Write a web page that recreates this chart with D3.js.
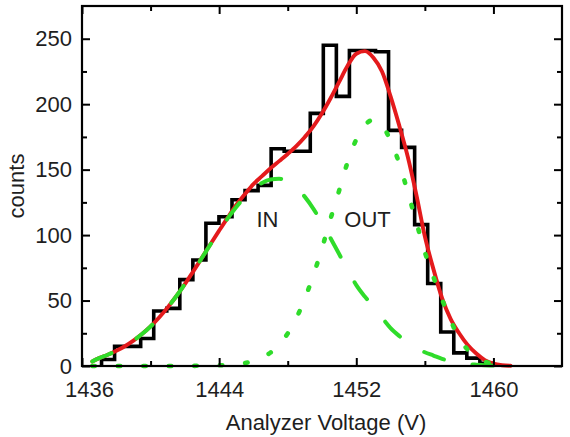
<!DOCTYPE html>
<html>
<head>
<meta charset="utf-8">
<script src="https://cdn.jsdelivr.net/npm/d3@7"></script>
<style>
  html, body { margin: 0; padding: 0; background: #fff; }
  svg { display: block; font-family: "Liberation Sans", Arial, sans-serif; }
</style>
</head>
<body>
<svg id="chart" width="570" height="437"></svg>
<script>
// Histogram of counts per analyzer-voltage bin
const binStart = 1437.14;
const binWidth = 0.761;
const counts = [5, 15, 15, 21, 42, 44, 66, 81, 109, 114, 127, 134, 138, 166, 164, 164,
                193, 245, 206, 241, 241, 240, 180, 167, 108, 63, 26, 10, 6, 2];

// Fitted curves sampled on a common voltage grid
const fitVoltage = [1436.6, 1437.0, 1437.5, 1438.0, 1438.5, 1439.0, 1439.5, 1440.0, 1440.5, 1441.0,
                    1441.5, 1442.0, 1442.5, 1443.0, 1443.5, 1444.0, 1444.5, 1445.0, 1445.5, 1446.0,
                    1446.5, 1447.0, 1447.5, 1448.0, 1448.5, 1449.0, 1449.5, 1450.0, 1450.5, 1451.0,
                    1451.5, 1452.0, 1452.5, 1453.0, 1453.5, 1454.0, 1454.5, 1455.0, 1455.5, 1456.0,
                    1456.5, 1457.0, 1457.5, 1458.0, 1458.5, 1459.0, 1459.5, 1460.0, 1460.5, 1461.0];
const fitTotal = [3.5, 6.0, 8.6, 11.6, 15.1, 19.4, 24.4, 30.2, 37.0, 44.8,
                  53.3, 62.6, 72.5, 82.8, 93.2, 103.4, 113.4, 123, 131.2, 139,
                  145, 151, 156.5, 162, 168, 175, 183, 193, 204.5, 217,
                  229.5, 238.5, 240.5, 235.5, 225, 206, 184, 160, 131, 99,
                  74, 52, 36, 25, 16, 9.5, 4.5, 1.8, 0.6, 0.2];
const fitIn = [3.5, 6.0, 8.6, 11.6, 15.1, 19.4, 24.4, 30.2, 37.0, 44.8,
               53.3, 62.6, 72.5, 82.7, 93.0, 103.0, 112.7, 121.5, 129.0, 135.3,
               139.8, 142.4, 143.0, 141.0, 136.3, 129.2, 120.1, 109.3, 97.6, 85.5,
               73.4, 61.8, 53.0, 45.5, 37.0, 29.0, 23.0, 18.0, 13.5, 10.5,
               8.0, 5.5, 3.8, 2.4, 1.5, 1.0, 0.6, 0.4, 0.2, 0.1];
const fitOut = [0, 0, 0, 0, 0, 0, 0, 0, 0, 0,
                0, 0, 0.1, 0.2, 0.3, 0.5, 0.8, 1.2, 2.2, 3.7,
                6.2, 10.3, 16.3, 24.8, 36.5, 51.5, 69.5, 90.0, 112.5, 134.0,
                156.0, 173.0, 184.0, 188.0, 184.0, 172.0, 155.0, 133.0, 110.0, 87.0,
                68.0, 51.0, 35.0, 21.0, 12.5, 6.8, 3.4, 1.5, 0.6, 0.2];

// Axis ticks
const xMajorTicks = [1436, 1444, 1452, 1460];
const xMinorTicks = [1440, 1448, 1456];
const yMajorTicks = [0, 50, 100, 150, 200, 250];
const yMinorTicks = [25, 75, 125, 175, 225];

// Peak labels
const peakLabels = [
  { text: "IN",  v: 1446.82, c: 106 },
  { text: "OUT", v: 1452.66, c: 106 }
];

const xTitle = "Analyzer Voltage (V)";
const yTitle = "counts";

const margin = { left: 82, top: 6, right: 8, bottom: 71 };
const width = 570, height = 437;
const innerW = width - margin.left - margin.right;
const innerH = height - margin.top - margin.bottom;

const x = d3.scaleLinear().domain([1436, 1464]).range([0, innerW]);
const y = d3.scaleLinear().domain([0, 275]).range([innerH, 0]);

const svg = d3.select("#chart");
const g = svg.append("g").attr("transform", `translate(${margin.left},${margin.top})`);

const textColor = "#1e1e1e";
const fontSize = 22;

// Histogram step outline
const edges = d3.range(counts.length + 1).map(i => binStart + i * binWidth);
let stepPath = d3.path();
stepPath.moveTo(x(edges[0]), y(0));
counts.forEach((c, i) => {
  stepPath.lineTo(x(edges[i]), y(c));
  stepPath.lineTo(x(edges[i + 1]), y(c));
});
stepPath.lineTo(x(edges[counts.length]), y(0));

g.append("path")
  .attr("d", stepPath.toString())
  .attr("fill", "none")
  .attr("stroke", "#000")
  .attr("stroke-width", 3.6)
  .attr("stroke-linejoin", "miter");

const line = (vals) => d3.line()
  .x((d, i) => x(fitVoltage[i]))
  .y(d => y(d))
  .curve(d3.curveMonotoneX)(vals);

// Total fit
g.append("path")
  .attr("d", line(fitTotal))
  .attr("fill", "none")
  .attr("stroke", "#e41a1c")
  .attr("stroke-width", 3.9)
  .attr("stroke-linecap", "round");

const green = "#2fdc2a";

// IN component (dashed)
g.append("path")
  .attr("d", line(fitIn))
  .attr("fill", "none")
  .attr("stroke", green)
  .attr("stroke-width", 4)
  .attr("stroke-linecap", "round")
  .attr("stroke-dasharray", "21,29");

// OUT component (dotted)
g.append("path")
  .attr("d", line(fitOut))
  .attr("fill", "none")
  .attr("stroke", green)
  .attr("stroke-width", 4.6)
  .attr("stroke-linecap", "round")
  .attr("stroke-dasharray", "2.5,23");

// Axes (ticks pointing inward on all four sides)
function styleAxis(sel) {
  sel.select(".domain").remove();
  sel.selectAll(".tick line").attr("stroke", "#000").attr("stroke-width", 2);
  sel.selectAll(".tick text")
    .attr("fill", textColor)
    .style("font-size", fontSize + "px")
    .style("font-family", '"Liberation Sans", Arial, sans-serif');
}

const bottomMajor = g.append("g").attr("transform", `translate(0,${innerH})`)
  .call(d3.axisBottom(x).tickValues(xMajorTicks).tickSize(-8).tickPadding(15).tickFormat(d3.format("d")));
styleAxis(bottomMajor);
bottomMajor.selectAll(".tick text").filter(d => d === 1436).attr("dx", 7);

const bottomMinor = g.append("g").attr("transform", `translate(0,${innerH})`)
  .call(d3.axisBottom(x).tickValues(xMinorTicks).tickSize(-5).tickFormat(""));
styleAxis(bottomMinor);

const topMajor = g.append("g")
  .call(d3.axisTop(x).tickValues(xMajorTicks).tickSize(-8).tickFormat(""));
styleAxis(topMajor);
const topMinor = g.append("g")
  .call(d3.axisTop(x).tickValues(xMinorTicks).tickSize(-5).tickFormat(""));
styleAxis(topMinor);

const leftMajor = g.append("g")
  .call(d3.axisLeft(y).tickValues(yMajorTicks).tickSize(-8).tickPadding(10).tickFormat(d3.format("d")));
styleAxis(leftMajor);
const leftMinor = g.append("g")
  .call(d3.axisLeft(y).tickValues(yMinorTicks).tickSize(-5).tickFormat(""));
styleAxis(leftMinor);

const rightMajor = g.append("g").attr("transform", `translate(${innerW},0)`)
  .call(d3.axisRight(y).tickValues(yMajorTicks).tickSize(-8).tickFormat(""));
styleAxis(rightMajor);
const rightMinor = g.append("g").attr("transform", `translate(${innerW},0)`)
  .call(d3.axisRight(y).tickValues(yMinorTicks).tickSize(-5).tickFormat(""));
styleAxis(rightMinor);

// Frame
g.append("rect")
  .attr("x", 0).attr("y", 0)
  .attr("width", innerW).attr("height", innerH)
  .attr("fill", "none")
  .attr("stroke", "#000")
  .attr("stroke-width", 2.2);

// Peak labels
g.selectAll("text.peak")
  .data(peakLabels)
  .join("text")
  .attr("class", "peak")
  .attr("x", d => x(d.v))
  .attr("y", d => y(d.c))
  .attr("text-anchor", "middle")
  .attr("fill", textColor)
  .style("font-size", fontSize + "px")
  .text(d => d.text);

// Axis titles
svg.append("text")
  .attr("x", 326)
  .attr("y", 430)
  .attr("text-anchor", "middle")
  .attr("fill", textColor)
  .style("font-size", fontSize + "px")
  .text(xTitle);

svg.append("text")
  .attr("transform", `translate(24,${margin.top + innerH / 2}) rotate(-90)`)
  .attr("text-anchor", "middle")
  .attr("fill", textColor)
  .style("font-size", fontSize + "px")
  .text(yTitle);
</script>
</body>
</html>
